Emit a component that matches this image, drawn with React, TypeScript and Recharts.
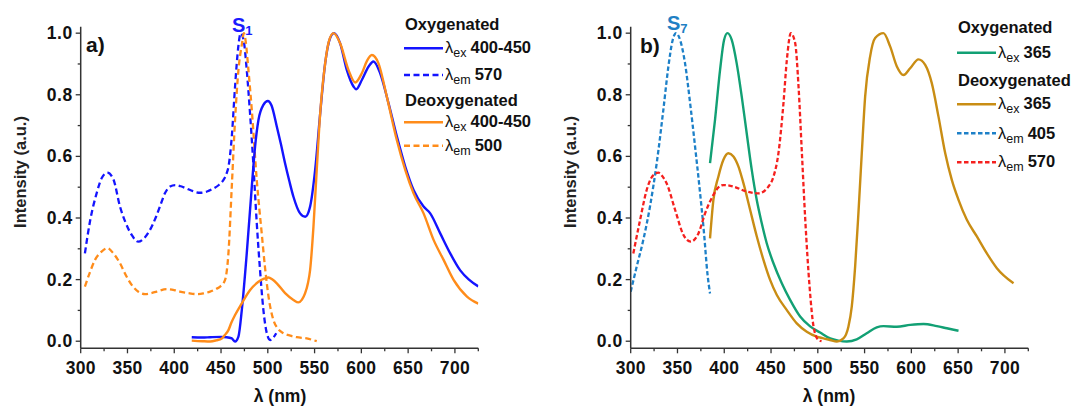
import React from 'react';
import { LineChart, Line, XAxis, YAxis } from 'recharts';

type Pt = [number, number];

// ---------- data (panel a) ----------
const oxyEmLeft: Pt[] = [
  [304.5, 0.285], [310, 0.39], [317, 0.48], [322.5, 0.53], [328.5, 0.547], [335, 0.525], [342, 0.437],
  [348, 0.385], [354.5, 0.345], [361.5, 0.323], [368, 0.335], [374, 0.361], [380, 0.4], [385, 0.44],
  [390, 0.48], [395.5, 0.502], [401, 0.507], [407, 0.503], [413, 0.496], [420, 0.487], [427.5, 0.482],
  [435, 0.486], [442, 0.496], [448, 0.508], [452.5, 0.523], [456, 0.545], [458, 0.567], [461.5, 0.664],
  [465, 0.827], [468.5, 0.957], [471, 1.0], [474, 0.98], [477.5, 0.88], [481, 0.74], [484.5, 0.577],
  [488, 0.393], [491.7, 0.231], [495.3, 0.101], [499, 0.025], [502.5, 0.004], [506, 0.012], [509, 0.026],
];
const deoxyEmLeft: Pt[] = [
  [304.5, 0.177], [310, 0.225], [315.3, 0.264], [322, 0.29], [328.5, 0.302], [335, 0.285], [342, 0.253],
  [349, 0.21], [356, 0.177], [362, 0.16], [368.8, 0.153], [375, 0.156], [381.3, 0.161], [392, 0.169],
  [400, 0.166], [406, 0.161], [415, 0.156], [424, 0.153], [431, 0.155], [438.3, 0.161], [445, 0.17],
  [449, 0.177], [454.3, 0.199], [457.9, 0.285], [461.5, 0.502], [465, 0.718], [468.6, 0.88], [472.2, 0.962],
  [474.5, 1.0], [476.5, 0.97], [479.3, 0.88], [482.9, 0.75], [488.2, 0.523], [493.5, 0.35], [497, 0.24],
  [501, 0.14], [506, 0.069], [511, 0.04], [516.6, 0.026], [524, 0.018], [531, 0.013], [541.6, 0.009], [552.3, 0.0],
];
const oxyExLeft: Pt[] = [
  [418.7, 0.013], [430, 0.012], [438.3, 0.013], [450, 0.014], [456, 0.013], [461.5, 0.009], [465, -0.001],
  [468.6, 0.015], [472.2, 0.101], [477.5, 0.285], [482.9, 0.502], [486.4, 0.632], [490, 0.718], [495.3, 0.767],
  [500, 0.78], [504, 0.765], [509.6, 0.697], [514, 0.64], [518.5, 0.577], [523, 0.52], [527.4, 0.469],
  [534.5, 0.415], [540, 0.404], [545.2, 0.437], [550.6, 0.556], [556, 0.74], [561.3, 0.902], [566.6, 0.984],
  [570.9, 1.0], [577.3, 0.967], [584.5, 0.88], [591.6, 0.827], [594.5, 0.818], [600.5, 0.848], [607.6, 0.891],
  [613, 0.908], [620.1, 0.87], [629, 0.773], [638, 0.664], [646.9, 0.567], [655.8, 0.491], [666.5, 0.437],
  [673.6, 0.415], [684.3, 0.35], [695, 0.285], [705.7, 0.23], [715, 0.2], [725, 0.178],
];
const deoxyExLeft: Pt[] = [
  [418.7, 0.002], [430, 0.0], [438.3, -0.001], [445, 0.003], [450.8, 0.009], [454, 0.02], [457.9, 0.036],
  [461, 0.06], [465, 0.085], [472.2, 0.123], [481.1, 0.166], [490, 0.193], [496, 0.203], [500.7, 0.207],
  [505, 0.2], [509.6, 0.188], [518.5, 0.156], [527.4, 0.134], [532.7, 0.126], [536.5, 0.135], [539.9, 0.156],
  [543, 0.19], [545.2, 0.231], [548.8, 0.372], [552.3, 0.556], [556, 0.74], [561.3, 0.902], [565, 0.97],
  [570.2, 1.0], [577.3, 0.967], [586.3, 0.88], [593.4, 0.84], [600.5, 0.87], [606, 0.91], [611.2, 0.929],
  [618.3, 0.902], [627.2, 0.794], [637.9, 0.653], [646.9, 0.556], [655.8, 0.48], [666.5, 0.415], [677.2, 0.329],
  [687.9, 0.264], [698.6, 0.199], [712.9, 0.145], [725, 0.122],
];

// ---------- data (panel b) ----------
const oxyExRight: Pt[] = [
  [384.8, 0.578], [390.1, 0.718], [395.5, 0.88], [399.8, 0.978], [403.4, 1.0], [408, 0.978], [413.3, 0.902],
  [418.7, 0.794], [424, 0.675], [429.4, 0.556], [434.7, 0.459], [440.1, 0.383], [445.4, 0.318], [452.6, 0.253],
  [461.5, 0.188], [470.4, 0.134], [481.1, 0.08], [491.8, 0.048], [502.5, 0.028], [513.2, 0.009], [522, 0.002],
  [531, -0.001], [541.6, 0.006], [552.3, 0.026], [563, 0.045], [570.2, 0.049], [584.5, 0.047], [598.7, 0.053],
  [613, 0.056], [627.2, 0.049], [637.9, 0.042], [650.4, 0.034],
];
const deoxyExRight: Pt[] = [
  [384.8, 0.334], [388.4, 0.459], [393.7, 0.534], [399.1, 0.589], [404.5, 0.61], [409.8, 0.6], [415.2, 0.567],
  [420.5, 0.513], [427.7, 0.426], [434.8, 0.34], [441.9, 0.264], [449, 0.199], [456.2, 0.15], [466.9, 0.101],
  [477.5, 0.058], [488.2, 0.031], [498.9, 0.015], [505, 0.01], [513.2, 0.004], [520.4, -0.001], [527.4, 0.009],
  [532.7, 0.047], [536.3, 0.112], [539.9, 0.242], [543.4, 0.415], [547, 0.61], [550.6, 0.794], [555.9, 0.924],
  [561.3, 0.984], [570.2, 1.0], [577.3, 0.957], [584.5, 0.892], [591.6, 0.864], [598.7, 0.886], [607.6, 0.915],
  [614.8, 0.897], [621.9, 0.837], [629, 0.729], [636.2, 0.61], [643.3, 0.523], [650.4, 0.459], [659.3, 0.394],
  [670, 0.34], [680.7, 0.285], [691.4, 0.237], [709.2, 0.188],
];
const deoxyEm405Right: Pt[] = [
  [300, 0.161], [306.4, 0.242], [313.5, 0.329], [320.6, 0.437], [327.8, 0.578], [334.9, 0.751], [340.3, 0.892],
  [344.9, 0.978], [348.5, 1.0], [352.8, 0.978], [358.1, 0.902], [363.5, 0.773], [368.8, 0.632], [374.2, 0.48],
  [378.4, 0.35], [382, 0.22], [384.8, 0.155],
];
const deoxyEm570Right: Pt[] = [
  [302.8, 0.285], [310, 0.393], [317.1, 0.491], [322, 0.53], [326, 0.543], [329.6, 0.547], [334, 0.535],
  [338.5, 0.512], [347.5, 0.426], [356.4, 0.345], [364.2, 0.323], [372.4, 0.35], [379.5, 0.415], [388.4, 0.475],
  [394, 0.5], [399.1, 0.507], [409.8, 0.502], [424, 0.486], [436.5, 0.48], [447.2, 0.502], [452.6, 0.534],
  [457.9, 0.61], [463.3, 0.773], [466.9, 0.913], [471.2, 1.0], [475.8, 0.968], [479.4, 0.827], [483, 0.61],
  [486.6, 0.394], [491.2, 0.177], [495.5, 0.047], [500.6, 0.004], [504, 0.0],
];

// ---------- ticks ----------
const xTicks = [300, 325, 350, 375, 400, 425, 450, 475, 500, 525, 550, 575, 600, 625, 650, 675, 700, 725];
const xLabelTicks = [300, 350, 400, 450, 500, 550, 600, 650, 700];
const yTicks = [0, 0.1, 0.2, 0.3, 0.4, 0.5, 0.6, 0.7, 0.8, 0.9, 1.0];
const yLabelTicks = [0, 0.2, 0.4, 0.6, 0.8, 1.0];

const FONT = '"Liberation Sans", Arial, Helvetica, sans-serif';
const AXIS = '#333';

const C = {
  blue: '#1414ff',
  orange: '#ff8c1a',
  green: '#12a074',
  gold: '#c98d14',
  blueR: '#1d80c8',
  red: '#f5201e',
};

const toData = (pts: Pt[]) => pts.map(([x, y]) => ({ x, y }));

function XTick(props: any) {
  const { x, y, payload } = props;
  const v = payload.value;
  const major = xLabelTicks.includes(v);
  return (
    <g>
      <line x1={x} x2={x} y1={y} y2={y + (major ? 5 : 3)} stroke={AXIS} strokeWidth={1.3} />
      {major && (
        <text x={x} y={y + 25.5} textAnchor="middle" fontFamily={FONT} fontWeight="bold" fontSize={17.5}
          letterSpacing={0.3} fill="#111">
          {v}
        </text>
      )}
    </g>
  );
}

function YTick(props: any) {
  const { x, y, payload } = props;
  const v = payload.value;
  const major = yLabelTicks.some((t) => Math.abs(t - v) < 1e-6);
  return (
    <g>
      <line x1={x} x2={x - (major ? 5 : 3)} y1={y} y2={y} stroke={AXIS} strokeWidth={1.3} />
      {major && (
        <text x={x - 8} y={y + 6} textAnchor="end" fontFamily={FONT} fontWeight="bold" fontSize={17.5}
          letterSpacing={0.5} fill="#111">
          {v.toFixed(1)}
        </text>
      )}
    </g>
  );
}

type S = { pts: Pt[]; color: string; dash?: string; width?: number };

function Panel({ series, mLeft, mRight, width }: { series: S[]; mLeft: number; mRight: number; width: number }) {
  return (
    <LineChart width={width} height={406} margin={{ top: 26.7, right: mRight, bottom: 17.7, left: mLeft }}>
      <XAxis
        type="number"
        dataKey="x"
        domain={[300, 725]}
        ticks={xTicks}
        interval={0}
        tickSize={0}
        tickMargin={0}
        tickLine={false}
        tick={(p: any) => <XTick {...p} />}
        axisLine={{ stroke: AXIS, strokeWidth: 1.5 }}
        height={40}
        allowDataOverflow
      />
      <YAxis
        type="number"
        dataKey="y"
        domain={[-0.023, 1.021]}
        ticks={yTicks}
        interval={0}
        tickSize={0}
        tickMargin={0}
        tickLine={false}
        tick={(p: any) => <YTick {...p} />}
        axisLine={{ stroke: AXIS, strokeWidth: 1.5 }}
        width={50}
        allowDataOverflow
      />
      {series.map((s, i) => (
        <Line
          key={i}
          data={toData(s.pts)}
          dataKey="y"
          type="monotone"
          stroke={s.color}
          strokeWidth={s.width ?? 2.4}
          strokeDasharray={s.dash}
          dot={false}
          activeDot={false}
          isAnimationActive={false}
        />
      ))}
    </LineChart>
  );
}

function LegendRow({ x, yLine, yText, color, dash, sub, label }: any) {
  return (
    <g>
      <line x1={x} x2={x + 39} y1={yLine} y2={yLine} stroke={color} strokeWidth={2.6} strokeDasharray={dash} />
      <text x={x + 41} y={yText} fontFamily={FONT} fontSize={16.5} fill="#111">
        <tspan>λ</tspan>
        <tspan fontSize={12.5} dy={4}>{sub}</tspan>
        <tspan dy={-4} dx={4} fontWeight="bold">{label}</tspan>
      </text>
    </g>
  );
}

function Overlay() {
  const title = { fontFamily: FONT, fontSize: 16.5, fontWeight: 'bold' as const, fill: '#111' };
  return (
    <svg width={1081} height={406} style={{ position: 'absolute', left: 0, top: 0, pointerEvents: 'none' }}>
      {/* axis titles */}
      <text x={280} y={402} textAnchor="middle" {...title} fontSize={17.5}>λ (nm)</text>
      <text x={829} y={402} textAnchor="middle" {...title} fontSize={17.5}>λ (nm)</text>
      <text transform="translate(26,172) rotate(-90)" textAnchor="middle" {...title} fill="#222">Intensity (a.u.)</text>
      <text transform="translate(576,172) rotate(-90)" textAnchor="middle" {...title} fill="#222">Intensity (a.u.)</text>

      {/* panel labels */}
      <text x={86} y={52} fontFamily={FONT} fontSize={21} fontWeight="bold" fill="#111">a)</text>
      <text x={640} y={53} fontFamily={FONT} fontSize={21} fontWeight="bold" fill="#111">b)</text>
      <text x={232} y={32} fontFamily={FONT} fontSize={20} fontWeight="bold" fill="#1a1aff">
        S<tspan fontSize={13} dy={3}>1</tspan>
      </text>
      <text x={667} y={30} fontFamily={FONT} fontSize={20} fontWeight="bold" fill="#1f80c4">
        S<tspan fontSize={13} dy={3}>7</tspan>
      </text>

      {/* legend a */}
      <text x={405} y={30} {...title}>Oxygenated</text>
      <LegendRow x={404} yLine={48.3} yText={53} color={C.blue} sub="ex" label="400-450" />
      <LegendRow x={404} yLine={75} yText={80} color={C.blue} dash="6 3.5" sub="em" label="570" />
      <text x={405} y={105.5} {...title}>Deoxygenated</text>
      <LegendRow x={404} yLine={122.3} yText={127} color={C.orange} sub="ex" label="400-450" />
      <LegendRow x={404} yLine={145.7} yText={151} color={C.orange} dash="6 3.5" sub="em" label="500" />

      {/* legend b */}
      <text x={958} y={33} {...title}>Oxygenated</text>
      <LegendRow x={957} yLine={52.7} yText={57.5} color={C.green} sub="ex" label="365" />
      <text x={958} y={86} {...title}>Deoxygenated</text>
      <LegendRow x={957} yLine={104.3} yText={109} color={C.gold} sub="ex" label="365" />
      <LegendRow x={957} yLine={133.3} yText={139} color={C.blueR} dash="4.5 2.5" sub="em" label="405" />
      <LegendRow x={957} yLine={162.3} yText={167} color={C.red} dash="4.5 2.5" sub="em" label="570" />
    </svg>
  );
}

export default function App() {
  const left: S[] = [
    { pts: oxyEmLeft, color: C.blue, dash: '6 3.5', width: 2.3 },
    { pts: deoxyEmLeft, color: C.orange, dash: '6 3.5', width: 2.3 },
    { pts: oxyExLeft, color: C.blue },
    { pts: deoxyExLeft, color: C.orange },
  ];
  const right: S[] = [
    { pts: oxyExRight, color: C.green },
    { pts: deoxyExRight, color: C.gold },
    { pts: deoxyEm405Right, color: C.blueR, dash: '4.5 2.5', width: 2.3 },
    { pts: deoxyEm570Right, color: C.red, dash: '4.5 2.5', width: 2.3 },
  ];
  return (
    <div style={{ position: 'absolute', left: 0, top: 0, width: 1081, height: 406, background: '#fff', fontFamily: FONT }}>
      <div style={{ position: 'absolute', left: 0, top: 0 }}>
        <Panel series={left} mLeft={30.7} mRight={61.7} width={540} />
      </div>
      <div style={{ position: 'absolute', left: 540, top: 0 }}>
        <Panel series={right} mLeft={40.7} mRight={52.7} width={541} />
      </div>
      <Overlay />
    </div>
  );
}
